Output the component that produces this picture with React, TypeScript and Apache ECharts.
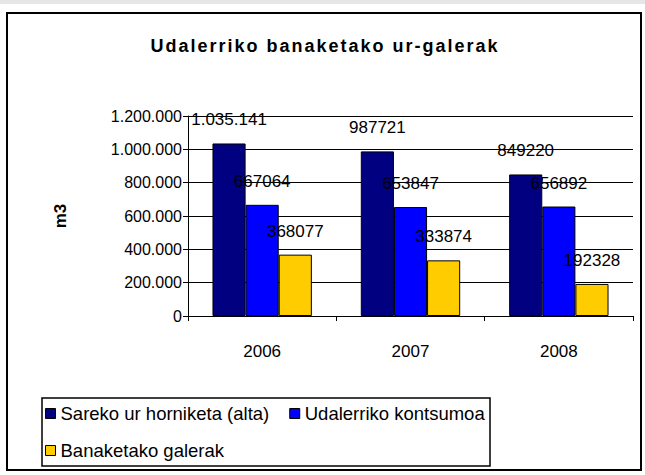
import { useEffect, useRef } from "react";
import * as echarts from "echarts";

const titleText = "Udalerriko banaketako ur-galerak";
const years = ["2006", "2007", "2008"];
const seriesNames = ["Sareko ur horniketa (alta)", "Udalerriko kontsumoa", "Banaketako galerak"];
const supply = [1035141, 987721, 849220];
const supplyLabels = ["1.035.141", "987721", "849220"];
const consumption = [667064, 653847, 656892];
const losses = [368077, 333874, 192328];
const yMax = 1200000;
const yStep = 200000;
const colors = ["#000080", "#0000FF", "#FFCC00"];

const FONT = "Liberation Sans, Arial, sans-serif";

function dots(v: number) {
  return String(v).replace(/\B(?=(\d{3})+(?!\d))/g, ".");
}

export default function App() {
  const ref = useRef<HTMLDivElement>(null);
  useEffect(() => {
    document.body.style.margin = "0";
    const chart = echarts.init(ref.current!, null, { renderer: "svg" });
    const label = { show: true, position: "top", distance: 15, color: "#000", fontSize: 17, fontFamily: FONT };
    const border = { borderColor: "#000", borderWidth: 1 };
    const legendBase = {
      orient: "horizontal",
      icon: "rect",
      itemWidth: 10,
      itemHeight: 10,
      itemGap: 20,
      padding: 0,
      textStyle: { fontSize: 18.5, color: "#000", fontFamily: FONT },
      itemStyle: { borderColor: "#000", borderWidth: 1 },
    };
    chart.setOption({
      animation: false,
      backgroundColor: "#fff",
      textStyle: { fontFamily: FONT },
      graphic: [
        { type: "rect", shape: { x: 0, y: 0, width: 645, height: 4 }, style: { fill: "#e6e6e6" }, silent: true },
        { type: "rect", shape: { x: 7, y: 13, width: 634, height: 457 }, style: { fill: "none", stroke: "#000", lineWidth: 2 }, silent: true },
        { type: "rect", shape: { x: 42, y: 398, width: 448, height: 68 }, style: { fill: "none", stroke: "#000", lineWidth: 1.5 }, silent: true },
        {
          type: "text", x: 325, y: 46,
          style: { text: titleText, font: `bold 18px ${FONT}`, fill: "#000", textAlign: "center", textVerticalAlign: "middle" },
        },
      ],
      grid: { left: 188, right: 12, top: 116, bottom: 159, containLabel: false },
      legend: [
        { ...legendBase, data: [seriesNames[0], seriesNames[1]], left: 45, top: 404 },
        { ...legendBase, data: [seriesNames[2]], left: 45, top: 441 },
      ],
      xAxis: {
        type: "category",
        data: years,
        axisLine: { lineStyle: { color: "#000", width: 1 } },
        axisTick: { show: true, length: 5, lineStyle: { color: "#000" } },
        axisLabel: { color: "#000", fontSize: 17, margin: 27, fontFamily: FONT },
      },
      yAxis: {
        type: "value",
        min: 0, max: yMax, interval: yStep,
        name: "m3",
        nameLocation: "middle",
        nameGap: 119,
        nameRotate: 90,
        nameTextStyle: { color: "#000", fontSize: 17, fontWeight: "bold", fontFamily: FONT },
        axisLine: { show: true, lineStyle: { color: "#000", width: 1 } },
        axisTick: { show: true, length: 5, lineStyle: { color: "#000" } },
        splitLine: { lineStyle: { color: "#000", width: 1 } },
        axisLabel: { color: "#000", fontSize: 16, margin: 6, fontFamily: FONT, formatter: (v: number) => dots(v) },
      },
      series: [
        {
          name: seriesNames[0], type: "bar", data: supply, barGap: "0%", barCategoryGap: "33%",
          itemStyle: { color: colors[0], ...border },
          label: { ...label, formatter: (p: any) => supplyLabels[p.dataIndex] },
        },
        {
          name: seriesNames[1], type: "bar", data: consumption,
          itemStyle: { color: colors[1], ...border },
          label: { ...label },
        },
        {
          name: seriesNames[2], type: "bar", data: losses,
          itemStyle: { color: colors[2], ...border },
          label: { ...label },
        },
      ],
    });
    const texts = ref.current!.querySelectorAll("text");
    texts.forEach((t) => {
      if (t.textContent === titleText) (t as SVGTextElement).style.letterSpacing = "2px";
    });
    return () => chart.dispose();
  }, []);
  return <div ref={ref} style={{ width: 645, height: 475 }} />;
}
